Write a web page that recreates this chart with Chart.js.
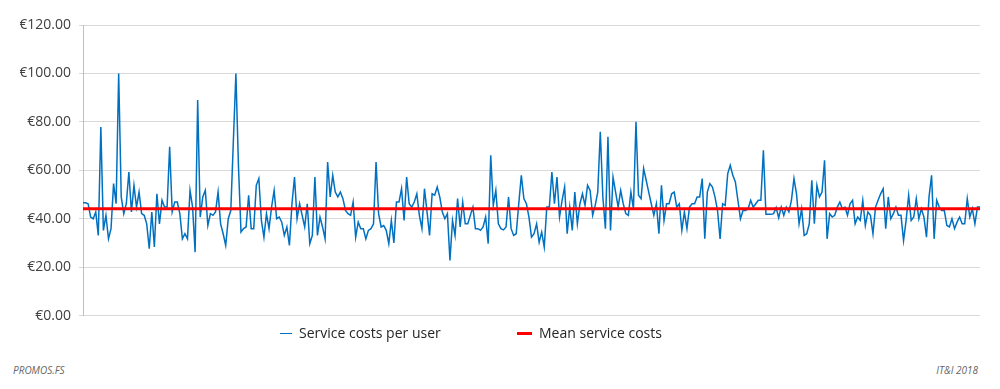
<!DOCTYPE html>
<html>
<head>
<meta charset="utf-8">
<script src="https://cdn.jsdelivr.net/npm/chart.js@4.4.1/dist/chart.umd.min.js"></script>
<style>
  body { margin: 0; background: #fff; font-family: 'Open Sans', sans-serif; }
  #wrap { position: relative; width: 1000px; height: 389px; }
  #box { position: absolute; left: 0; top: 0; width: 1000px; height: 332px; }
  .legend { position: absolute; top: 323px; font-size: 14px; color: #262626; white-space: nowrap; }
  .legend i { display: inline-block; vertical-align: middle; margin-right: 7px; position: relative; top: -1px; }
  .foot { position: absolute; top: 363px; font-size: 10px; font-style: italic; color: #666; }
</style>
</head>
<body>
<div id="wrap">
  <div id="box"><canvas id="myChart"></canvas></div>
  <div class="legend" style="left:280px"><i style="width:12px;height:1.5px;background:#0070c0"></i>Service costs per user</div>
  <div class="legend" style="left:517px"><i style="width:15px;height:3px;background:#ff0000"></i>Mean service costs</div>
  <div class="foot" style="left:13px">PROMOS.FS</div>
  <div class="foot" style="right:22px">IT&amp;I 2018</div>
</div>
<script>
// service costs per user (EUR)
const costs = [
  46.6, 46.6, 46.2, 40.7, 40.0, 42.8, 33.1, 77.9, 35.2, 41.4, 31.7,
  35.9, 54.5, 46.2, 100, 49.0, 42.1, 46.2, 59.3, 42.8, 53.8, 44.8,
  51.0, 42.1, 41.4, 37.9, 27.6, 42.8, 28.3, 50.3, 37.9, 47.6,
  44.8, 44.8, 69.7, 42.8, 46.9, 46.9, 42.1, 31.7, 33.8, 31.7,
  51.7, 44.8,
  26.2, 89.0, 40.7, 49.0, 51.7, 37.2, 42.1, 41.4, 42.8,
  51.0, 37.9, 33.8, 29.0, 40.0, 43.4, 72.0, 100, 62.0, 34.5,
  35.9, 36.6, 49.7, 35.9, 35.9, 53.8, 56.6, 39.3, 32.4, 42.1,
  35.9, 44.8, 51.7, 40.0, 40.7, 38.6, 33.1, 36.6, 29.0, 46.2,
  57.2, 40.0, 46.2,
  41.4, 36.6, 46.2, 29.7, 33.1, 57.2, 33.1, 40.7, 36.6, 31.7,
  63.4, 49.0, 57.9, 51.0, 49.0, 51.0, 48.3, 43.4, 42.1, 41.4,
  46.9, 32.4, 38.6, 35.9, 35.9, 31.7, 35.2, 35.9, 37.9, 63.4,
  42.1, 36.6, 37.2, 35.2, 29.7, 39.3, 30.0, 46.9, 46.9, 52.4,
  39.3, 57.2, 46.2, 44.8,
  46.9, 50.3, 41.4, 35.9, 52.4, 42.8, 33.1, 50.3, 49.7, 53.1,
  49.0, 42.8, 40.0, 42.1, 22.8, 39.3, 33.1, 48.3, 36.6, 46.9,
  37.9, 37.9, 41.4, 44.8, 35.9, 35.9, 35.2, 36.6, 40.7, 29.7,
  66.2, 45.5, 51.7, 37.9, 35.9, 35.4, 36.6, 49.0, 35.9, 33.1,
  33.8, 46.2, 57.9, 48.3,
  46.2, 40.7, 32.4, 33.8, 37.9, 30.3, 34.5, 28.3, 44.8, 44.8,
  59.3, 46.2, 57.2, 40.7, 47.6, 53.1, 33.8, 44.8, 35.2, 51.0,
  37.9, 46.2, 50.3, 45.5, 53.8, 51.7, 41.4, 45.5, 51.0, 75.9,
  49.0, 35.9, 73.8, 35.2, 57.2, 51.0, 44.8, 51.7, 46.2, 42.1,
  41.4, 51.0, 44.1,
  80.0, 49.7, 48.3, 60.7, 55.9, 51.0, 46.2, 41.4, 46.2, 33.8,
  53.8, 39.3, 46.2, 46.2, 50.3, 51.0, 44.8, 46.2, 35.2, 42.8,
  35.9, 44.8, 46.2, 46.2, 49.0, 49.0, 56.6, 31.7, 51.0, 54.5,
  53.1, 49.0, 43.4, 31.7, 46.2, 45.5, 58.6, 62.1, 57.9, 55.2,
  47.6, 40.0, 43.4,
  43.4, 44.1, 47.6, 44.8, 46.2, 47.6, 47.6, 68.3, 41.8, 41.8,
  41.8, 42.1, 44.6, 40.4, 44.8, 41.4, 44.8, 42.8, 47.6, 56.6,
  50.3, 37.9, 44.1, 33.1, 33.8, 37.9, 55.9, 37.9, 53.8, 49.0,
  51.0, 64.1, 31.7, 42.1, 40.7, 41.4, 44.8, 46.9, 44.1, 44.8,
  41.4, 46.2, 47.6,
  37.9, 40.7, 39.3, 47.6, 37.2, 42.8, 41.4, 33.8, 44.8, 47.6,
  50.3, 52.4, 35.9, 49.0, 40.0, 42.1, 44.8, 41.4, 41.4, 31.0,
  39.3, 49.7, 39.3, 40.7, 48.3, 40.0, 44.1, 40.7, 32.4, 49.0,
  57.9, 31.7, 47.6, 44.8, 43.4, 43.4, 37.2, 36.6, 40.0, 35.9,
  38.6, 40.7, 37.9, 37.9, 48.3, 40.7, 44.1, 37.9, 44.8, 44.8
];
const meanCost = 44.1;
const users = costs.map((c, i) => i + 1);
const yTicks = [0, 20, 40, 60, 80, 100, 120];

const renderChart = () => {
    const config = {
        type: 'line',
        data: {
            labels: users,
            datasets: [{
                label: 'Service costs per user',
                data: costs,
                borderColor: '#0070c0',
                borderWidth: 1.5,
                pointRadius: 0,
                tension: 0,
                order: 2
            }, {
                label: 'Mean service costs',
                data: users.map(() => meanCost),
                borderColor: '#ff0000',
                borderWidth: 3,
                pointRadius: 0,
                order: 1
            }]
        },
        options: {
            responsive: true,
            maintainAspectRatio: false,
            animation: false,
            layout: { padding: { left: 20, right: 20, top: 25, bottom: 8 } },
            plugins: { legend: { display: false }, tooltip: { enabled: false } },
            scales: {
                x: { display: false, offset: false },
                y: {
                    min: 0,
                    max: 120,
                    afterBuildTicks: axis => { axis.ticks = yTicks.map(v => ({ value: v })); },
                    afterFit: axis => { axis.width = 63; },
                    ticks: {
                        padding: 8,
                        color: '#404040',
                        font: { family: 'Open Sans', size: 14 },
                        callback: v => '€' + v.toFixed(2)
                    },
                    grid: { color: '#d9d9d9', tickLength: 4 },
                    border: { color: '#bfbfbf' }
                }
            }
        }
    };
    new Chart(document.getElementById('myChart'), config);
};

renderChart();
</script>
</body>
</html>
